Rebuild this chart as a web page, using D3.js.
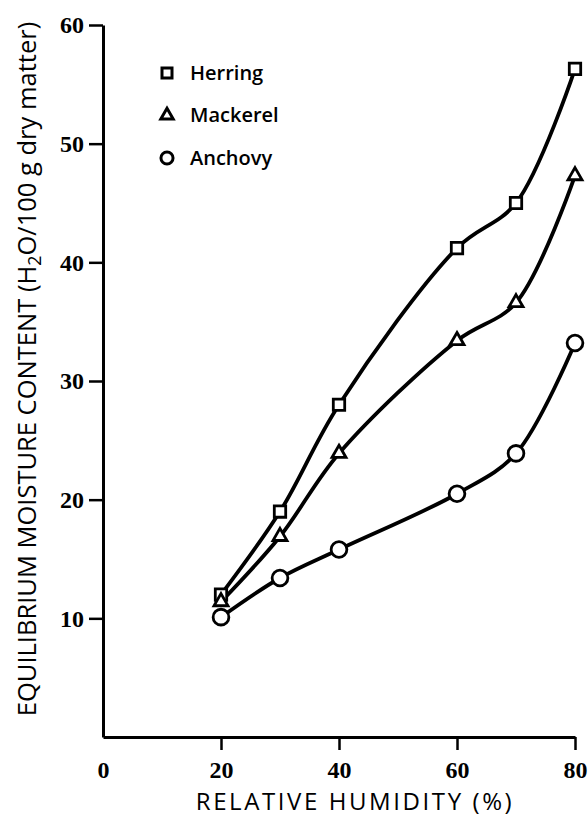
<!DOCTYPE html>
<html>
<head>
<meta charset="utf-8">
<script src="https://cdn.jsdelivr.net/npm/d3@7"></script>
<style>
  html, body { margin: 0; padding: 0; background: #fff; }
  svg { display: block; }
  .tick text { font-family: "Liberation Serif", "DejaVu Serif", serif; font-weight: bold; }
</style>
</head>
<body>
<svg id="chart" width="588" height="826"></svg>
<script>
/* ── Data ─────────────────────────────────────────────────────────── */
const humidity  = [20, 30, 40, 60, 70, 80];
const herring   = [12.0, 19.0, 28.0, 41.2, 45.0, 56.3];
const mackerel  = [11.4, 16.9, 23.9, 33.4, 36.6, 47.3];
const anchovy   = [10.1, 13.4, 15.8, 20.5, 23.9, 33.2];

const seriesNames = ['Herring', 'Mackerel', 'Anchovy'];
const xTicks = [0, 20, 40, 60, 80];
const yTicks = [10, 20, 30, 40, 50, 60];

const series = [
  { name: seriesNames[0], values: herring,  symbol: d3.symbolSquare,   size: 130, legendSize: 100 },
  { name: seriesNames[1], values: mackerel, symbol: d3.symbolTriangle, size: 85,  legendSize: 66 },
  { name: seriesNames[2], values: anchovy,  symbol: d3.symbolCircle,   size: 195, legendSize: 115 },
];

/* ── Layout ───────────────────────────────────────────────────────── */
const svg = d3.select('#chart');
const X0 = 103, X1 = 575;   // x-axis extent
const Y0 = 737, Y1 = 25;    // y-axis extent

const x = d3.scaleLinear().domain([0, 80]).range([X0, X1]);
const y = d3.scaleLinear().domain([0, 60]).range([Y0, Y1]);

/* ── Axes ─────────────────────────────────────────────────────────── */
const gx = svg.append('g')
  .attr('transform', `translate(0,${Y0})`)
  .call(d3.axisBottom(x).tickValues(xTicks).tickSize(13).tickSizeOuter(0).tickPadding(11));

const gy = svg.append('g')
  .attr('transform', `translate(${X0},0)`)
  .call(d3.axisLeft(y).tickValues(yTicks).tickSize(14).tickSizeOuter(0).tickPadding(5));

[gx, gy].forEach(g => {
  g.select('.domain').attr('stroke', '#000').attr('stroke-width', 3);
  g.selectAll('.tick line').attr('stroke', '#000').attr('stroke-width', 2.5);
  g.selectAll('.tick text').attr('fill', '#000').attr('font-size', '24px');
});
// no tick mark under the origin
gx.selectAll('.tick').filter(d => d === 0).select('line').remove();

/* ── Curves ───────────────────────────────────────────────────────── */
const line = d3.line()
  .x((d, i) => x(humidity[i]))
  .y(d => y(d))
  .curve(d3.curveCatmullRom.alpha(0.5));

svg.append('g').selectAll('path').data(series).join('path')
  .attr('d', s => line(s.values))
  .attr('fill', 'none')
  .attr('stroke', '#000')
  .attr('stroke-width', 3.8)
  .attr('stroke-linejoin', 'round');

/* ── Markers ──────────────────────────────────────────────────────── */
series.forEach(s => {
  svg.append('g').selectAll('path').data(s.values).join('path')
    .attr('transform', (d, i) => `translate(${x(humidity[i])},${y(d)})`)
    .attr('d', d3.symbol().type(s.symbol).size(s.size)())
    .attr('fill', '#fff')
    .attr('stroke', '#000')
    .attr('stroke-width', 2.8);
});

/* ── Legend ───────────────────────────────────────────────────────── */
const legend = svg.append('g').attr('transform', 'translate(167,73)');
const rows = legend.selectAll('g').data(series).join('g')
  .attr('transform', (d, i) => `translate(0,${i * 42.5})`);

rows.append('path')
  .attr('d', s => d3.symbol().type(s.symbol).size(s.legendSize)())
  .attr('fill', '#fff')
  .attr('stroke', '#000')
  .attr('stroke-width', 3);

rows.append('text')
  .attr('x', 23)
  .attr('y', 6.5)
  .attr('font-family', '"Open Sans", "Liberation Sans", sans-serif')
  .attr('font-weight', 600)
  .attr('font-size', '20px')
  .attr('fill', '#000')
  .text(s => s.name);

/* ── Axis titles ──────────────────────────────────────────────────── */
function fitText(sel, target) {
  const fs  = parseFloat(sel.attr('font-size'));
  const len = sel.node().getComputedTextLength();
  sel.attr('font-size', (fs * target / len).toFixed(2) + 'px');
}

const xTitle = svg.append('text')
  .attr('x', 355)
  .attr('y', 810)
  .attr('text-anchor', 'middle')
  .attr('font-family', '"Open Sans", "Liberation Sans", sans-serif')
  .attr('font-weight', 500)
  .attr('font-size', '24px')
  .attr('fill', '#000')
  .text('RELATIVE HUMIDITY (%)');
// widen with letter spacing rather than size, to keep clear of the tick labels
{
  const len = xTitle.node().getComputedTextLength();
  const n = 'RELATIVE HUMIDITY (%)'.length;
  xTitle.attr('letter-spacing', Math.max(0, (316 - len) / (n - 1)).toFixed(2) + 'px');
}

const yTitle = svg.append('text')
  .attr('transform', 'translate(36,369) rotate(-90)')
  .attr('text-anchor', 'middle')
  .attr('font-family', '"Open Sans", "Liberation Sans", sans-serif')
  .attr('font-weight', 500)
  .attr('font-size', '20px')
  .attr('fill', '#000');
yTitle.append('tspan').text('EQUILIBRIUM MOISTURE CONTENT (H');
yTitle.append('tspan').attr('font-size', '0.7em').attr('dy', '0.3em').text('2');
yTitle.append('tspan').attr('dy', '-0.21em').text('O/100 g dry matter)');
fitText(yTitle, 695);
</script>
</body>
</html>
